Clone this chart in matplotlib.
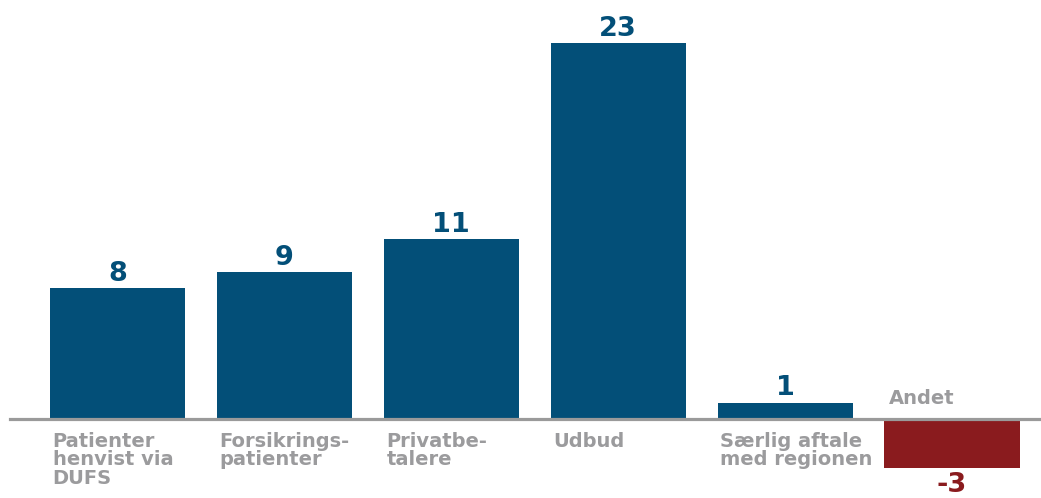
import numpy as np
import matplotlib.pyplot as plt

categories = ["Patienter\nhenvist via\nDUFS", "Forsikrings-\npatienter", "Privatbe-\ntalere",
              "Udbud", "Særlig aftale\nmed regionen", "Andet"]
values = [8, 9, 11, 23, 1, -3]

blue = "#034f78"
red = "#8a1b1e"
grey = "#9b9b9d"

x = np.arange(len(values))
bar_w = 0.81
colors = [blue if v >= 0 else red for v in values]

fig = plt.figure(figsize=(10.41, 4.98), dpi=100)
ax = fig.add_axes([0, 0, 1, 1])
ax.bar(x, values, width=bar_w, color=colors, zorder=2)
ax.set_xlim(-0.704, 5.533)
ax.set_ylim(-4.83, 25.63)
ax.axhline(0, xmin=10 / 1041, xmax=1, color="#9a9a9a", lw=2.3, zorder=3)
ax.axis("off")

for xi, v, lab, c in zip(x, values, categories, colors):
    if v >= 0:
        ax.annotate(str(v), (xi, v), xytext=(0, 1), textcoords="offset points",
                    ha="center", va="bottom", fontsize=19.5, fontweight="bold", color=c)
        ax.annotate(lab, (xi - bar_w / 2, 0), xytext=(2, -9), textcoords="offset points",
                    ha="left", va="top", fontsize=14, fontweight="bold", color=grey,
                    linespacing=0.98)
    else:
        ax.annotate(str(v), (xi, v), xytext=(0, -3), textcoords="offset points",
                    ha="center", va="top", fontsize=19.5, fontweight="bold", color=c)
        ax.annotate(lab, (xi - bar_w / 2, 0), xytext=(3, 8), textcoords="offset points",
                    ha="left", va="bottom", fontsize=14, fontweight="bold", color=grey)

fig.savefig("out.png", dpi=100)
